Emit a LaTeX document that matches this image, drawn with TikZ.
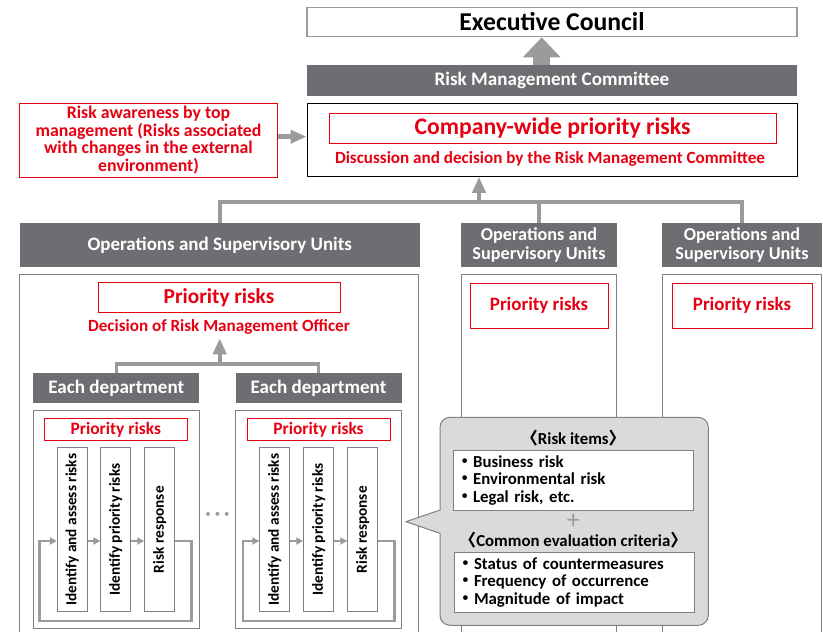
\documentclass[tikz,border=0pt]{standalone}
\usepackage{fontspec}
\setmainfont{Carlito}
\newfontfamily\cjk{Noto Sans CJK JP}
\usetikzlibrary{arrows.meta}
\definecolor{rkred}{RGB}{230,0,18}
\definecolor{hdgray}{RGB}{109,110,113}
\definecolor{lngray}{RGB}{155,155,157}
\definecolor{bxgray}{RGB}{128,128,130}
\definecolor{cofill}{RGB}{218,218,219}
\newcommand{\txtsize}[2]{\fontsize{#1}{#2}\selectfont}
\newcommand{\itemdot}{{\cjk ・}}
\tikzset{
  basenode/.style = {inner sep=0pt, align=center, font=\bfseries},
  hdr/.style = {basenode, fill=hdgray, text=white},% dark heading bar
  redbox/.style = {basenode, draw=rkred, line width=1pt, text=rkred},% red frame
  greybox/.style = {basenode, draw=bxgray, line width=0.8pt},% thin grey frame
  redtxt/.style = {basenode, text=rkred},% red caption
  colbox/.style = {greybox, minimum height=400pt, anchor=north},% open column
  proc/.style = {greybox, minimum width=30pt, minimum height=164pt},% vertical step
  link/.style = {draw=lngray, line width=4pt},% grey tree line
  uparr/.style = {lngray, line width=4pt, -{Triangle[width=13pt,length=16pt]}},
  flow/.style = {lngray, line width=2pt, -{Triangle[width=7pt,length=7pt]}},% step arrow
  loopline/.style = {lngray, line width=2.7pt, -{Triangle[width=7pt,length=7pt]}}
}

\begin{document}
\begin{tikzpicture}[x=1pt,y=-1pt]
\path[use as bounding box, clip] (0,0) rectangle (823,632);

% top of the structure
\node[greybox, draw=lngray, line width=1.2pt, minimum width=490pt, minimum height=29.5pt,
      font=\bfseries\txtsize{25.7}{28}] (exec) at (552,22) {Executive Council};
\node[hdr, minimum width=490pt, minimum height=31pt, font=\bfseries\txtsize{19.1}{20}]
      (rmc) at (552,80.5) {Risk Management Committee};
\node[basenode, draw=black, line width=1pt, minimum width=490pt, minimum height=73pt]
      (mgmt) at (552,139.8) {};
\node[redbox, minimum width=447pt, minimum height=30pt, font=\bfseries\txtsize{23.7}{24}]
      (cwide) at (552.5,128.3) {Company-wide priority risks};
\node[redtxt, font=\bfseries\txtsize{17.1}{18}] (disc) at (550,159)
      {Discussion and decision by the Risk Management Committee};
\node[redbox, minimum width=258pt, minimum height=74pt, font=\bfseries\txtsize{17.8}{17.6}]
      (aware) at (148.5,140) {Risk awareness by top\\management (Risks associated\\with changes in the external\\environment)};

\coordinate (upx) at (541.7,0);
\draw[lngray, line width=16.7pt, -{Triangle[width=36.7pt,length=20pt]}]
      (rmc.north -| upx) -- (exec.south -| upx);
\coordinate (awy) at (0,136.7);
\draw[uparr, line width=5pt] (aware.east |- awy) -- (mgmt.west |- awy);

% operations and supervisory units
\node[hdr, minimum width=400.5pt, minimum height=43.5pt, font=\bfseries\txtsize{19}{17}]
      (ops1) at (219.75,245) {Operations and Supervisory Units};
\node[hdr, minimum width=156pt, minimum height=43.5pt, font=\bfseries\txtsize{18.2}{18.2}]
      (ops2) at (539,245) {Operations and\\Supervisory Units};
\node[hdr, minimum width=160pt, minimum height=43.5pt, font=\bfseries\txtsize{18.2}{18.2}]
      (ops3) at (742,245) {Operations and\\Supervisory Units};
\node[colbox, minimum width=399pt] (col1) at (219,274.3) {};
\node[colbox, minimum width=154.8pt] (col2) at (539.1,274.3) {};
\node[colbox, minimum width=158.4pt] (col3) at (741.8,274.3) {};

\coordinate (bus) at (0,202);
\draw[link] (ops1.north) -- (ops1.north |- bus) -- (ops3.north |- bus) -- (ops3.north);
\draw[link] (ops2.north) -- (ops2.north |- bus);
\coordinate (feed) at (479,202);
\draw[uparr] (feed) -- (feed |- mgmt.south);

\node[redbox, minimum width=242pt, minimum height=29.6pt, font=\bfseries\txtsize{21.3}{22}]
      (prio1) at (219,297.5) {Priority risks};
\node[redtxt, font=\bfseries\txtsize{17.1}{18}] (dec1) at (219,327)
      {Decision of Risk Management Officer};
\node[redbox, minimum width=138pt, minimum height=45pt, font=\bfseries\txtsize{18.9}{20}]
      (prio2) at (539,305.8) {Priority risks};
\node[redbox, minimum width=140pt, minimum height=45pt, font=\bfseries\txtsize{18.9}{20}]
      (prio3) at (742,305.8) {Priority risks};

% departments
\node[hdr, minimum width=166pt, minimum height=30pt, font=\bfseries\txtsize{19.1}{20}]
      (dep1) at (116.3,388.3) {Each department};
\node[hdr, minimum width=166pt, minimum height=30pt, font=\bfseries\txtsize{19.1}{20}]
      (dep2) at (318.5,388.3) {Each department};
\coordinate (dbus) at (0,364);
\draw[link, line width=3.5pt] (dep1.north) -- (dep1.north |- dbus) -- (dep2.north |- dbus) -- (dep2.north);
\coordinate (dfeed) at (219.7,364);
\draw[uparr] (dfeed) -- ++(0,-25.7);

\node[greybox, minimum width=166pt, minimum height=218.7pt] (dbox1) at (116.2,519.3) {};
\node[greybox, minimum width=166pt, minimum height=218.7pt] (dbox2) at (318.8,519.3) {};
\node[redbox, minimum width=143pt, minimum height=22pt, font=\bfseries\txtsize{17.4}{18}]
      (dpr1) at (115.8,429.3) {Priority risks};
\node[redbox, minimum width=143pt, minimum height=22pt, font=\bfseries\txtsize{17.4}{18}]
      (dpr2) at (318.5,429.3) {Priority risks};

\node[proc, label={[rotate=90, font=\bfseries\txtsize{15.3}{16}]center:Identify and assess risks}] (idA1) at (72.3,529.7) {};
\node[proc, label={[rotate=90, font=\bfseries\txtsize{15.3}{16}]center:Identify priority risks}] (idP1) at (115.8,529.7) {};
\node[proc, label={[rotate=90, font=\bfseries\txtsize{15.3}{16}]center:Risk response}] (resp1) at (159.7,529.7) {};
\node[proc, label={[rotate=90, font=\bfseries\txtsize{15.3}{16}]center:Identify and assess risks}] (idA2) at (274.8,529.7) {};
\node[proc, label={[rotate=90, font=\bfseries\txtsize{15.3}{16}]center:Identify priority risks}] (idP2) at (318.7,529.7) {};
\node[proc, label={[rotate=90, font=\bfseries\txtsize{15.3}{16}]center:Risk response}] (resp2) at (362.7,529.7) {};

\draw[flow] ([yshift=-11.3pt]idA1.east) -- ([yshift=-11.3pt]idP1.west);
\draw[flow] ([yshift=-11.3pt]idP1.east) -- ([yshift=-11.3pt]resp1.west);
\draw[loopline] ([yshift=-11.3pt]resp1.east) -- ++(16.7,0) -- ++(0,80)
      -| ([xshift=-17.3pt,yshift=-11.3pt]idA1.west) -- ([yshift=-11.3pt]idA1.west);
\draw[flow] ([yshift=-11.3pt]idA2.east) -- ([yshift=-11.3pt]idP2.west);
\draw[flow] ([yshift=-11.3pt]idP2.east) -- ([yshift=-11.3pt]resp2.west);
\draw[loopline] ([yshift=-11.3pt]resp2.east) -- ++(16.7,0) -- ++(0,80)
      -| ([xshift=-16.4pt,yshift=-11.3pt]idA2.west) -- ([yshift=-11.3pt]idA2.west);

\node[text=lngray, font=\txtsize{11}{12}] (dots) at (217.5,515) {•\hspace{4pt}•\hspace{4pt}•};

% evaluation callout
\coordinate (ctip) at (406,521.7);
\draw[fill=cofill, draw=bxgray, line width=1pt] (ctip) -- (440,510) [rounded corners=10pt]
      -- (440,417.3) -- (708.3,417.3) -- (708.3,625.3) -- (440,625.3) [sharp corners]
      -- (440,533.3) -- cycle;
\node[basenode, font=\bfseries\txtsize{16.8}{17}] (ritems) at (573.3,438.3)
      {{\cjk 〈}Risk items{\cjk 〉}};
\node[greybox, fill=white, minimum width=240pt, minimum height=59.3pt, text width=234pt,
      align=left, font=\bfseries\txtsize{16.8}{17.5}] (rbox) at (573.3,480.3)
      {\itemdot Business risk\\\itemdot Environmental risk\\\itemdot Legal risk, etc.};
\node[text=lngray, font=\txtsize{26}{26}] (plus) at (573.3,521.5) {+};
\node[basenode, font=\bfseries\txtsize{16.8}{17}] (critt) at (573.3,540)
      {{\cjk 〈}Common evaluation criteria{\cjk 〉}};
\node[greybox, fill=white, minimum width=239.7pt, minimum height=59.3pt, text width=234pt,
      align=left, font=\bfseries\txtsize{16.8}{17.5}] (cbox) at (574.2,582.3)
      {\itemdot Status of countermeasures\\\itemdot Frequency of occurrence\\\itemdot Magnitude of impact};
\end{tikzpicture}
\end{document}
